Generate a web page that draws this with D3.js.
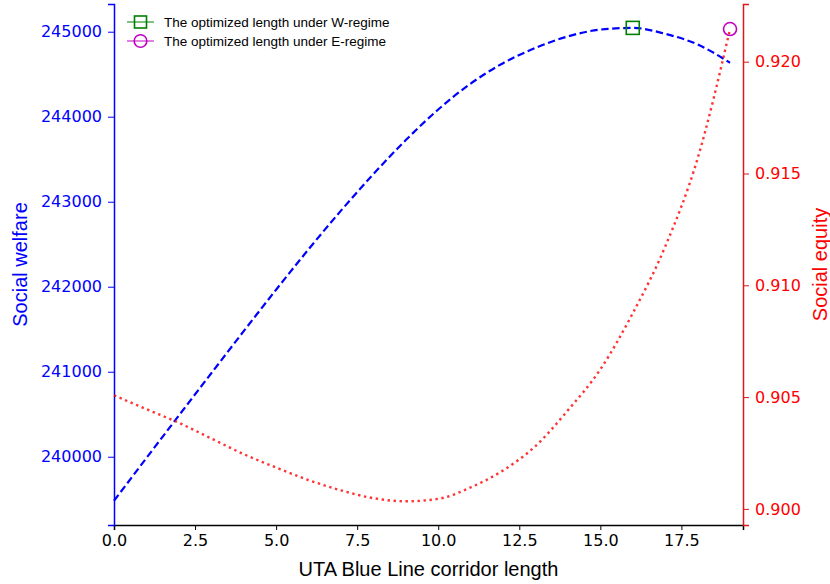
<!DOCTYPE html>
<html>
<head>
<meta charset="utf-8">
<script src="https://cdn.jsdelivr.net/npm/d3@7"></script>
<style>
  body { margin: 0; background: #fff; }
  .tick text { font-family: "DejaVu Sans", sans-serif; font-size: 16px; }
  .lbl { font-family: "Liberation Sans", Arial, sans-serif; font-size: 20px; }
  .leg { font-family: "Liberation Sans", Arial, sans-serif; font-size: 13.5px; }
</style>
</head>
<body>
<div id="chart"></div>
<script>
// corridor length (x) and the two objective curves
var lengths = [0, 1, 2, 3, 4, 5, 6, 7, 8, 9, 10, 11, 12, 13, 14, 15, 16, 17, 18, 19];
var welfare = [239482, 239985, 240485, 240982, 241477, 241965, 242440, 242895, 243325, 243725,
               244085, 244390, 244630, 244810, 244945, 245025, 245045, 244975, 244850, 244635];
var equity = [0.90508, 0.90446, 0.90385, 0.90315, 0.90245, 0.90185, 0.90129, 0.90083, 0.90048, 0.90034,
              0.90045, 0.90096, 0.90172, 0.90281, 0.90441, 0.90624, 0.90875, 0.91173, 0.91567, 0.92146];
var xTicks = [0, 2.5, 5, 7.5, 10, 12.5, 15, 17.5];
var welfareTicks = [240000, 241000, 242000, 243000, 244000, 245000];
var equityTicks = [0.900, 0.905, 0.910, 0.915, 0.920];
var optW = { x: 16, y: 245045 };
var optE = { x: 19, y: 0.92146 };
var legendItems = ["The optimized length under W-regime", "The optimized length under E-regime"];

var width = 830;
var height = 584;
var margins = { top: 4, bottom: 59, left: 114, right: 87 };
var plotWidth = width - margins.left - margins.right;
var plotHeight = height - margins.top - margins.bottom;

var svg = d3.select('#chart')
    .append('svg')
    .attr('width', width)
    .attr('height', height);

var plot = svg.append('g')
    .attr('transform', 'translate(' + margins.left + ',' + margins.top + ')');

var xScale = d3.scaleLinear().domain([0, 19.4]).range([0, plotWidth]);
var yLeft = d3.scaleLinear().domain([239197, 245326]).range([plotHeight, 0]);
var yRight = d3.scaleLinear().domain([0.89928, 0.92258]).range([plotHeight, 0]);

// axes
var xAxis = plot.append('g')
    .attr('transform', 'translate(0,' + plotHeight + ')')
    .call(d3.axisBottom(xScale).tickValues(xTicks).tickFormat(d3.format('.1f')).tickSizeOuter(0).tickSize(5).tickPadding(5));
xAxis.select('.domain').attr('stroke', '#000').attr('stroke-width', 1.5);
xAxis.selectAll('.tick line').attr('stroke', '#000');
xAxis.selectAll('.tick text').attr('fill', '#000');

var leftAxis = plot.append('g')
    .call(d3.axisLeft(yLeft).tickValues(welfareTicks).tickFormat(d3.format('d')).tickSizeOuter(0).tickSize(6).tickPadding(6));
leftAxis.select('.domain').attr('stroke', 'blue').attr('stroke-width', 1.5);
leftAxis.selectAll('.tick line').attr('stroke', 'blue');
leftAxis.selectAll('.tick text').attr('fill', 'blue');

var rightAxis = plot.append('g')
    .attr('transform', 'translate(' + plotWidth + ',0)')
    .call(d3.axisRight(yRight).tickValues(equityTicks).tickFormat(d3.format('.3f')).tickSizeOuter(0).tickSize(6).tickPadding(6));
rightAxis.select('.domain').attr('stroke', '#dd1a1a').attr('stroke-width', 1.5);
rightAxis.selectAll('.tick line').attr('stroke', '#dd1a1a');
rightAxis.selectAll('.tick text').attr('fill', 'red');

// curves
var welfareLine = d3.line()
    .x(function (d, i) { return xScale(lengths[i]); })
    .y(function (d) { return yLeft(d); })
    .curve(d3.curveMonotoneX);
var equityLine = d3.line()
    .x(function (d, i) { return xScale(lengths[i]); })
    .y(function (d) { return yRight(d); })
    .curve(d3.curveMonotoneX);

plot.append('path')
    .datum(welfare)
    .attr('d', welfareLine)
    .attr('fill', 'none')
    .attr('stroke', 'blue')
    .attr('stroke-width', 2.2)
    .attr('stroke-dasharray', '7.4,3.6');

plot.append('path')
    .datum(equity)
    .attr('d', equityLine)
    .attr('fill', 'none')
    .attr('stroke', 'red')
    .attr('stroke-opacity', 0.8)
    .attr('stroke-width', 2.4)
    .attr('stroke-dasharray', '2.4,3.6');

// optimum markers
plot.append('rect')
    .attr('x', xScale(optW.x) - 6.5)
    .attr('y', yLeft(optW.y) - 6.5)
    .attr('width', 13)
    .attr('height', 13)
    .attr('fill', 'none')
    .attr('stroke', 'green')
    .attr('stroke-width', 1.6);

plot.append('circle')
    .attr('cx', xScale(optE.x))
    .attr('cy', yRight(optE.y))
    .attr('r', 6.5)
    .attr('fill', 'none')
    .attr('stroke', '#c000c0')
    .attr('stroke-width', 1.6);

// axis titles
svg.append('text')
    .classed('lbl', true)
    .attr('x', margins.left + plotWidth / 2)
    .attr('y', 576)
    .attr('text-anchor', 'middle')
    .attr('fill', '#000')
    .text('UTA Blue Line corridor length');

svg.append('text')
    .classed('lbl', true)
    .attr('transform', 'translate(27,' + (margins.top + plotHeight / 2) + ') rotate(-90)')
    .attr('text-anchor', 'middle')
    .attr('fill', 'blue')
    .text('Social welfare');

svg.append('text')
    .classed('lbl', true)
    .attr('transform', 'translate(827,' + (margins.top + plotHeight / 2) + ') rotate(-90)')
    .attr('text-anchor', 'middle')
    .attr('fill', 'red')
    .text('Social equity');

// legend
var legend = svg.append('g').attr('transform', 'translate(127,22)');
var legendRows = legend.selectAll('.row')
    .data(legendItems)
    .enter()
    .append('g')
    .classed('row', true)
    .attr('transform', function (d, i) { return 'translate(0,' + (i * 19) + ')'; });
legendRows.append('line')
    .attr('x1', 0).attr('x2', 27).attr('y1', 0).attr('y2', 0)
    .attr('stroke', function (d, i) { return i === 0 ? 'green' : '#c000c0'; })
    .attr('stroke-width', 1);
legendRows.filter(function (d, i) { return i === 0; })
    .append('rect')
    .attr('x', 7.5).attr('y', -6).attr('width', 12).attr('height', 12)
    .attr('fill', 'none').attr('stroke', 'green').attr('stroke-width', 1.6);
legendRows.filter(function (d, i) { return i === 1; })
    .append('circle')
    .attr('cx', 13.5).attr('cy', 0).attr('r', 6.3)
    .attr('fill', 'none').attr('stroke', '#c000c0').attr('stroke-width', 1.6);
legendRows.append('text')
    .classed('leg', true)
    .attr('x', 37)
    .attr('y', 5)
    .attr('fill', '#000')
    .text(function (d) { return d; });
</script>
</body>
</html>
